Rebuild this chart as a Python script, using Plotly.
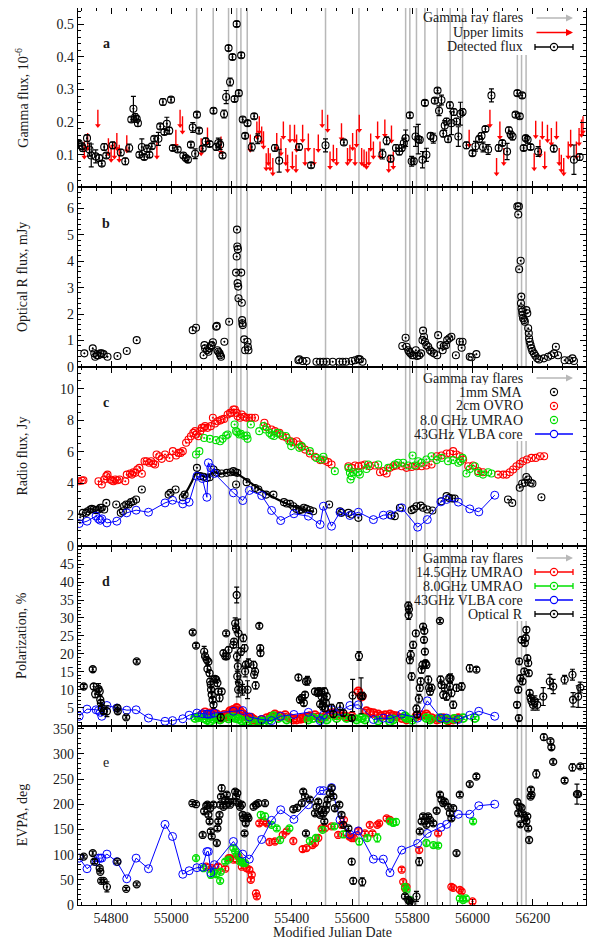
import plotly.graph_objects as go
from plotly.subplots import make_subplots

# ---------------- DATA ----------------
FLARES = [55084, 55139, 55190, 55217, 55231, 55252, 55512, 55623, 55778, 55792,
          55814, 55842, 55883, 55926, 55967, 56149, 56163, 56178]

X_TICKS = [54800, 55000, 55200, 55400, 55600, 55800, 56000, 56200]

# panel a: gamma flux (mjd, flux, err)
GAMMA_DET = [(54692,.136,.008),(54703,.126,.010),(54706,.120,.010),(54720,.151,.010),(54728,.116,.020),(54734,.098,.035),
 (54749,.095,.020),(54760,.090,.010),(54769,.073,.008),(54777,.124,.010),(54784,.098,.008),(54805,.129,.010),(54832,.107,.010),
 (54847,.080,.010),(54860,.121,.012),(54867,.208,.008),(54874,.241,.038),(54880,.216,.010),(54885,.210,.010),(54889,.197,.010),
 (54894,.100,.008),(54902,.124,.025),(54910,.093,.008),(54919,.119,.010),(54927,.100,.008),(54935,.126,.008),(54943,.149,.008),
 (54957,.149,.020),(54963,.187,.008),(54972,.262,.010),(54977,.170,.008),(54985,.195,.020),(54993,.174,.010),(54999,.269,.008),
 (55005,.121,.008),(55021,.116,.008),(55040,.098,.008),(55048,.090,.008),(55055,.085,.008),(55065,.131,.008),(55071,.184,.015),
 (55079,.103,.015),(55085,.223,.008),(55092,.174,.008),(55104,.119,.008),(55114,.141,.010),(55127,.133,.008),(55140,.235,.008),
 (55149,.124,.010),(55156,.136,.015),(55162,.131,.015),(55170,.098,.008),(55175,.225,.012),(55182,.277,.020),(55190,.427,.008),
 (55195,.323,.012),(55203,.400,.008),(55210,.271,.008),(55217,.501,.008),(55224,.289,.008),(55232,.405,.008),(55237,.208,.008),
 (55245,.158,.008),(55253,.197,.008),(55267,.124,.012),(55275,.218,.008),(55287,.149,.015),(55344,.121,.010),(55358,.082,.035),
 (55424,.124,.010),(55464,.068,.008),(55512,.129,.020),(55573,.138,.008),(55701,.102,.015),(55715,.143,.012),(55728,.088,.010),
 (55746,.121,.010),(55757,.110,.010),(55765,.121,.010),(55772,.136,.015),(55778,.151,.025),(55792,.221,.008),(55798,.080,.015),
 (55805,.080,.010),(55811,.156,.030),(55820,.148,.045),(55825,.146,.010),(55834,.085,.025),(55842,.259,.008),(55847,.100,.020),
 (55861,.158,.010),(55870,.151,.015),(55875,.266,.008),(55884,.297,.008),(55889,.235,.015),(55897,.268,.015),(55903,.165,.010),
 (55908,.190,.015),(55914,.202,.010),(55919,.148,.010),(55925,.252,.010),(55930,.197,.035),(55938,.231,.010),(55947,.202,.010),
 (55953,.156,.030),(55960,.226,.035),(55967,.231,.010),(55980,.129,.010),(56000,.105,.008),(56010,.126,.015),(56022,.148,.010),
 (56030,.158,.010),(56035,.124,.015),(56043,.179,.008),(56052,.116,.015),(56063,.282,.020),(56087,.121,.010),(56099,.136,.008),
 (56115,.110,.025),(56121,.175,.010),(56127,.162,.010),(56133,.156,.010),(56143,.223,.008),(56149,.289,.008),(56157,.218,.008),
 (56165,.282,.008),(56170,.121,.008),(56177,.151,.008),(56183,.146,.010),(56193,.124,.008),(56218,.110,.015),(56270,.119,.010),
 (56337,.085,.045),(56356,.093,.010)]

GAMMA_UL = [(54711,.141),(54722,.167),(54756,.238),(54791,.151),(54800,.131),(54811,.141),(54819,.167),(54827,.131),(54852,.160),
 (54952,.141),(55015,.177),(55029,.238),(55037,.218),(55099,.151),(55120,.184),(55165,.156),(55262,.162),(55284,.202),(55292,.218),
 (55300,.187),(55306,.172),(55315,.105),(55322,.121),(55328,.105),(55337,.090),(55350,.167),(55364,.151),(55372,.202),(55380,.121),
 (55386,.100),(55394,.192),(55402,.110),(55409,.192),(55414,.100),(55416,.162),(55436,.192),(55444,.121),(55455,.165),(55474,.121),
 (55488,.162),(55501,.238),(55519,.223),(55527,.110),(55538,.131),(55549,.121),(55565,.197),(55585,.121),(55593,.131),(55602,.167),
 (55610,.121),(55615,.177),(55624,.223),(55632,.121),(55640,.116),(55648,.110),(55656,.121),(55662,.165),(55671,.141),(55685,.202),
 (55693,.141),(55709,.208),(55722,.100),(55731,.190),(55737,.110),(55989,.177),(56058,.238),(56080,.090),(56091,.202),(56104,.121),
 (56205,.105),(56210,.204),(56224,.146),(56232,.202),(56240,.110),(56249,.192),(56262,.182),(56279,.202),(56288,.121),(56295,.100),
 (56303,.090),(56318,.141),(56326,.177),(56345,.141),(56354,.182),(56362,.208),(56367,.218)]

# panel b: optical R flux, mJy
OPT_FLUX = [(54711,.51),(54739,.70),(54744,.51),(54747,.38),(54753,.44),(54758,.44),(54764,.51),(54769,.51),(54775,.48),(54788,.38),
 (54821,.41),(54852,.60),(54885,1.01),(55071,1.39),(55082,1.48),(55107,.44),(55110,.82),(55112,.70),(55118,.63),(55123,.57),
 (55127,.70),(55131,.78),(55134,.82),(55138,.93),(55149,1.52),(55151,1.55),(55153,.63),(55156,.57),(55160,.51),(55162,.44),
 (55165,.38),(55176,.95),(55192,1.71),(55215,3.57),(55217,4.18),(55218,5.20),(55219,4.56),(55221,4.46),(55220,3.17),(55222,3.04),
 (55223,2.60),(55232,3.57),(55234,2.43),(55235,1.77),(55236,1.65),(55237,1.58),(55242,1.04),(55245,.63),(55253,.95),(55254,.76),
 (55256,.63),(55422,.25),(55425,.28),(55436,.22),(55449,.22),(55482,.19),(55494,.19),(55505,.19),(55516,.19),(55536,.19),
 (55558,.19),(55569,.19),(55580,.19),(55599,.22),(55610,.25),(55621,.29),(55626,.28),(55635,.19),(55767,.79),(55778,1.10),
 (55781,.76),(55787,.63),(55790,.57),(55794,.51),(55800,.44),(55805,.44),(55812,.63),(55816,.41),(55823,.44),(55829,.51),
 (55834,1.01),(55836,1.37),(55839,1.14),(55842,.95),(55847,.82),(55853,.76),(55859,.63),(55864,.57),(55872,.51),(55883,.44),
 (55886,1.20),(55894,.82),(55901,.63),(55905,.79),(55912,.82),(55916,1.01),(55923,1.08),(55930,1.14),(55945,.44),(55958,.95),
 (55964,.72),(55967,.95),(55991,.38),(55997,.36),(56013,.48),(56149,6.08),(56152,5.77),(56154,6.08),(56155,3.70),(56160,4.02),
 (56161,2.41),(56162,2.66),(56163,2.22),(56165,2.09),(56166,1.96),(56168,1.84),(56172,1.77),(56174,1.71),(56179,2.15),(56182,2.03),
 (56185,1.46),(56187,1.27),(56188,1.08),(56190,.95),(56193,.82),(56196,.70),(56199,.60),(56204,.51),(56209,.42),(56215,.32),
 (56221,.28),(56237,.32),(56251,.38),(56262,.44),(56271,.51),(56277,.76),(56284,.44),(56306,.25),(56321,.25),(56332,.32),(56337,.22)]

# panel c: radio flux, Jy
OVRO_2CM = [(54692,4.13),(54703,4.17),(54708,4.19),(54758,4.13),(54769,3.92),(54777,4.24),(54784,4.45),(54788,4.55),(54797,4.24),
 (54803,4.17),(54808,4.13),(54814,4.24),(54821,4.19),(54828,4.24),(54847,4.13),(54852,4.55),(54863,4.62),(54869,4.55),(54874,4.70),
 (54880,4.66),(54887,4.87),(54894,4.98),(54902,4.60),(54911,5.40),(54918,5.40),(54926,5.30),(54933,5.40),(54940,5.25),(54946,5.19),
 (54951,5.83),(54960,5.72),(54968,5.55),(54979,5.83),(54994,5.61),(55005,6.04),(55016,5.76),(55024,5.93),(55031,5.93),(55038,6.04),
 (55049,6.57),(55057,6.78),(55065,6.99),(55073,7.20),(55079,7.31),(55082,7.10),(55090,6.99),(55096,7.31),(55101,7.52),(55107,7.52),
 (55112,7.63),(55120,7.52),(55131,7.63),(55138,8.16),(55145,7.80),(55153,7.94),(55162,7.99),(55167,8.05),(55175,8.09),(55187,8.37),
 (55195,8.47),(55200,8.47),(55206,8.69),(55211,8.69),(55217,8.47),(55220,8.26),(55228,8.16),(55234,8.37),(55242,8.22),(55250,8.16),
 (55259,8.16),(55267,8.16),(55278,8.16),(55309,7.84),(55317,7.56),(55333,7.42),(55344,7.31),(55359,7.20),(55370,6.99),(55383,6.89),
 (55397,6.67),(55405,6.61),(55416,6.67),(55425,6.46),(55433,6.31),(55444,6.14),(55460,5.89),(55477,5.68),(55494,5.47),(55510,5.44),
 (55521,5.34),(55532,5.19),(55588,5.08),(55599,4.98),(55610,5.13),(55621,5.08),(55632,5.13),(55643,5.19),(55659,5.08),(55676,5.13),
 (55693,4.70),(55704,4.77),(55715,4.62),(55726,4.98),(55737,5.08),(55748,5.13),(55765,5.08),(55781,4.98),(55798,5.04),(55814,5.08),
 (55831,5.08),(55847,5.13),(55864,5.19),(55881,5.72),(55897,5.76),(55914,5.89),(55925,5.89),(55936,6.04),(55947,5.83),(55958,5.72),
 (55969,5.51),(55986,5.08),(56002,5.13),(56019,4.77),(56035,4.70),(56085,4.55),(56102,4.55),(56113,4.55),(56124,4.70),(56135,4.87),
 (56146,5.08),(56157,5.23),(56168,5.40),(56181,5.51),(56196,5.61),(56210,5.61),(56224,5.72),(56238,5.72)]

UMRAO_8_FLUX = [(55082,5.83),(55093,6.04),(55109,6.88),(55128,6.82),(55148,6.74),(55162,6.67),(55170,6.82),(55182,7.03),(55187,7.10),
 (55210,7.73),(55215,7.31),(55219,7.24),(55226,7.10),(55231,7.15),(55243,7.00),(55250,7.03),(55253,6.82),(55264,7.73),(55292,7.31),
 (55306,7.63),(55313,7.42),(55326,7.20),(55333,7.06),(55341,7.00),(55352,7.20),(55361,7.10),(55380,7.00),(55392,6.67),(55398,6.36),
 (55425,6.25),(55433,6.36),(55460,6.04),(55482,5.61),(55499,5.51),(55505,5.68),(55543,4.77),(55588,4.98),(55593,4.66),(55595,4.24),
 (55599,4.45),(55604,4.70),(55621,4.70),(55626,4.55),(55648,4.91),(55654,5.19),(55687,5.19),(55720,4.98),(55742,5.19),(55753,5.30),
 (55770,5.30),(55787,5.13),(55801,5.76),(55809,5.13),(55820,5.40),(55831,5.30),(55847,5.51),(55864,5.72),(55881,5.47),(55897,5.61),
 (55919,5.40),(55936,5.47),(55953,5.30),(55960,5.40),(55967,5.61),(55980,4.62),(55991,4.91),(56008,5.08),(56019,4.66),(56035,4.55),
 (56052,4.70),(56063,4.62)]

SMA_1MM = [(54697,1.84),(54706,2.12),(54717,2.12),(54722,2.22),(54731,2.33),(54736,2.37),(54742,2.33),(54750,2.29),(54758,2.33),
 (54764,2.44),(54769,2.44),(54777,2.33),(54784,2.75),(54817,2.65),(54832,2.12),(54839,2.22),(54843,2.54),(54850,2.65),(54858,2.65),
 (54866,2.80),(54874,2.86),(54883,2.97),(54902,3.60),(54991,3.28),(54997,3.39),(55014,3.60),(55038,3.11),(55044,3.28),(55085,4.98),
 (55096,4.45),(55107,4.41),(55118,4.34),(55127,4.38),(55140,4.87),(55151,4.66),(55167,4.62),(55184,4.66),(55197,4.70),(55206,4.77),
 (55212,4.70),(55215,3.92),(55219,4.66),(55250,4.07),(55278,3.70),(55289,3.60),(55315,3.28),(55339,3.28),(55374,2.80),(55383,2.71),
 (55394,2.69),(55405,2.54),(55416,2.37),(55425,2.29),(55433,2.33),(55440,2.44),(55449,2.37),(55460,2.29),(55471,2.22),(55524,2.65),
 (55560,2.22),(55565,2.12),(55588,2.12),(55599,2.01),(55621,1.80),(55731,1.95),(55742,1.91),(55759,2.44),(55798,2.29),(55805,2.37),
 (55814,2.54),(55828,2.58),(55836,2.44),(55850,2.33),(55867,2.27),(55897,2.86),(55914,3.18),(55923,3.07),(55933,3.03),(55941,3.03),
 (56118,2.97),(56132,2.75),(56157,3.71),(56165,3.98),(56174,4.03),(56179,4.40),(56185,4.24),(56193,4.03),(56199,3.98),(56229,3.11)]

SMA_TREND_MJD = [55035, 55051, 55068, 55085, 55101, 55118, 55140, 55162, 55195, 55217, 55250, 55284, 55317, 55350, 55383, 55427, 55471]
SMA_TREND = [3.10, 3.50, 4.10, 4.70, 4.50, 4.40, 4.70, 4.60, 4.70, 4.60, 4.20, 3.75, 3.35, 3.00, 2.70, 2.40, 2.20]

# VLBA 43 GHz core (panels c, d, e share epochs)
VLBA_MJD = [54694, 54720, 54750, 54758, 54764, 54769, 54786, 54819, 54852, 54883, 54924, 54979, 55004, 55038, 55059, 55085,
            55103, 55118, 55123, 55131, 55143, 55206, 55237, 55259, 55300, 55333, 55363, 55407, 55455, 55494, 55505, 55532,
            55560, 55593, 55621, 55671, 55704, 55726, 55765, 55818, 55850, 55895, 55914, 55953, 55991, 56021, 56074]
VLBA_FLUX = [1.44, 1.59, 1.91, 1.74, 1.65, 1.74, 1.48, 1.59, 2.12, 2.29, 2.16, 2.75, 2.92, 2.69, 2.80, 4.45,
             4.30, 3.11, 5.30, 4.98, 4.62, 3.39, 2.90, 3.54, 3.22, 2.27, 1.63, 2.06, 1.91, 1.38, 2.54, 1.27,
             2.16, 1.95, 2.16, 1.69, 1.97, 2.01, 2.44, 1.21, 1.69, 2.82, 2.97, 2.80, 2.37, 2.18, 3.24]
VLBA_POL = [2.6, 4.6, 4.4, 4.2, 3.7, 2.6, 5.6, 4.9, 4.3, 4.4, 2.1, 1.2, 1.4, 1.9, 2.9, 3.5,
            3.3, 3.2, 3.2, 3.2, 3.5, 4.0, 4.2, 2.4, 1.7, 1.4, 2.6, 3.1, 3.7, 1.4, 2.9, 4.4,
            4.0, 5.6, 5.8, 1.7, 2.1, 1.9, 3.2, 2.1, 6.9, 2.1, 2.1, 1.7, 2.9, 4.0, 2.6]
VLBA_EVPA = [93, 72, 86, 93, 93, 93, 101, 86, 52, 93, 72, 160, 136, 61, 68, 74,
             75, 106, 106, 64, 80, 126, 101, 91, 130, 168, 189, 170, 199, 227, 227, 233,
             169, 140, 147, 91, 91, 64, 109, 122, 142, 154, 160, 180, 180, 197, 200]

# panel d: polarization degree, %
POL_14 = [(55100,2.9),(55112,3.7),(55123,3.1),(55130,3.4),(55140,3.5),(55151,3.1),(55167,2.1),(55175,3.0),(55184,2.6),(55195,4.0),
 (55200,3.6),(55206,4.4),(55212,4.2),(55217,4.9),(55228,4.0),(55239,3.1),(55245,2.6),(55256,2.1),(55265,2.2),(55273,1.7),(55289,1.2),
 (55300,1.6),(55317,2.1),(55330,2.5),(55344,3.1),(55359,2.6),(55378,2.9),(55394,2.1),(55405,1.7),(55416,1.7),(55430,1.9),(55438,2.1),
 (55450,2.4),(55460,2.6),(55477,2.9),(55488,2.3),(55499,2.1),(55516,2.9),(55527,3.3),(55538,3.5),(55550,2.8),(55565,3.1),(55580,2.4),
 (55599,2.6),(55621,9.5),(55632,8.1),(55648,4.0),(55660,3.6),(55671,3.5),(55687,3.1),(55698,2.6),(55710,2.9),(55726,3.1),(55736,2.8),
 (55748,2.6),(55765,2.1),(55781,1.7),(55814,2.6),(55830,2.9),(55847,3.1),(55864,2.1),(55881,1.7),(55890,1.9),(55903,2.1),(55919,1.4),
 (55936,1.7),(55953,2.1)]

POL_8 = [(55079,2.1),(55090,2.3),(55107,2.1),(55118,1.6),(55128,1.2),(55140,1.8),(55151,2.1),(55162,1.7),(55190,2.0),(55201,2.3),
 (55212,2.1),(55223,1.9),(55234,1.4),(55250,1.2),(55273,1.2),(55295,1.2),(55306,1.0),(55325,1.6),(55339,2.6),(55355,2.1),(55383,1.7),
 (55455,1.7),(55471,2.1),(55495,1.9),(55516,1.7),(55549,2.1),(55582,2.1),(55615,1.7),(55632,2.1),(55643,1.7),(55687,1.4),(55726,1.2),
 (55737,1.7),(55776,2.6),(55781,2.1),(55800,1.6),(55847,2.1),(55859,1.7),(55892,2.1),(55914,1.7),(55940,1.9),(55969,2.1),(56008,2.1)]

POL_OPT = [(54709,10.9,.5),(54739,15.7,.6),(54742,10.9,.8),(54747,8.8,1.0),(54758,10.2,1.5),(54762,9.5,1.2),(54764,7.2,1.0),
 (54766,6.3,.8),(54769,4.9,.8),(54775,4.0,.6),(54786,4.0,1.5),(54821,4.9,.6),(54822,4.0,.5),(54850,2.3,.5),(54885,17.9,.5),
 (55071,26.0,.5),(55082,22.3,.6),(55109,20.6,1.5),(55112,19.3,1.0),(55118,18.3,.8),(55120,15.8,.8),(55123,17.8,.8),(55127,14.6,.8),
 (55129,12.3,.8),(55131,11.4,.8),(55132,10.0,.8),(55134,8.6,.8),(55137,7.2,.8),(55140,5.8,.8),(55145,13.0,.8),(55149,12.8,.8),
 (55153,11.9,1.0),(55156,9.5,.8),(55160,7.7,1.0),(55164,2.3,1.0),(55167,9.5,.8),(55173,20.2,.8),(55179,19.3,.8),(55182,25.7,.6),
 (55184,19.3,.8),(55190,21.1,.8),(55206,22.5,.8),(55208,23.4,.8),(55212,28.5,1.5),(55215,27.1,1.2),(55217,36.4,2.2),(55218,19.3,1.2),
 (55219,13.7,1.5),(55221,16.5,1.5),(55222,10.0,2.0),(55223,25.7,4.0),(55225,11.9,2.0),(55231,20.6,1.0),(55236,10.0,1.5),
 (55239,24.4,1.0),(55243,21.6,1.0),(55245,15.1,1.5),(55247,16.9,1.0),(55253,10.0,2.5),(55256,17.4,1.2),(55273,16.9,1.0),
 (55275,14.2,1.0),(55278,15.1,1.0),(55280,11.2,1.0),(55292,27.8,.6),(55295,21.6,.8),(55296,20.2,.8),(55422,13.4,.8),(55427,7.2,.8),
 (55433,7.7,.8),(55440,6.3,.8),(55444,8.6,.8),(55447,12.3,.8),(55452,12.5,1.2),(55477,9.5,.8),(55486,9.1,.8),(55491,9.5,1.0),
 (55494,6.0,.8),(55499,8.1,2.0),(55502,5.4,1.0),(55505,6.8,1.5),(55508,9.5,1.0),(55510,4.9,1.0),(55513,6.3,1.0),(55516,8.1,1.0),
 (55532,4.9,1.0),(55538,3.2,.8),(55560,5.4,1.0),(55571,3.5,.8),(55599,2.1,.8),(55602,8.4,4.5),(55623,19.4,1.2),(55630,8.3,5.0),
 (55635,8.3,1.0),(55787,33.4,1.0),(55789,32.4,1.2),(55788,30.8,1.2),(55792,18.3,1.0),(55795,19.7,1.2),(55798,13.7,1.0),
 (55803,22.5,1.0),(55812,25.7,.8),(55814,4.7,1.0),(55816,3.1,.8),(55822,7.5,1.2),(55825,10.5,1.0),(55828,12.3,1.0),(55831,15.6,1.0),
 (55834,16.9,1.0),(55836,27.6,.8),(55839,23.9,.8),(55840,26.4,.8),(55842,20.6,.8),(55844,17.4,.8),(55847,16.9,.8),(55853,12.8,1.0),
 (55856,10.5,1.0),(55859,9.5,1.0),(55864,10.5,1.0),(55892,29.2,.5),(55894,12.8,1.0),(55897,11.4,1.0),(55903,8.6,1.0),
 (55908,10.5,1.0),(55914,8.1,1.0),(55923,13.2,1.0),(55925,10.9,1.0),(55927,13.2,1.2),(55930,9.1,1.0),(55936,5.8,1.0),
 (55947,10.5,1.0),(55964,10.9,1.0),(55991,16.0,1.0),(56013,15.6,.6),(56148,5.8,.8),(56152,10.0,.8),(56154,2.1,.8),(56155,17.9,.8),
 (56159,13.2,.8),(56163,23.9,.8),(56166,12.3,.8),(56172,15.1,.8),(56174,23.0,.8),(56177,24.4,.8),(56179,26.7,.8),(56182,18.8,.8),
 (56185,17.4,.8),(56187,14.6,.8),(56190,9.1,.8),(56193,7.7,1.0),(56196,6.8,1.0),(56201,5.8,1.5),(56207,6.8,1.5),(56215,5.8,1.5),
 (56235,8.1,2.5),(56257,12.3,2.0),(56268,10.9,2.0),(56306,12.8,1.2),(56332,14.2,1.5),(56334,7.2,2.0),(56351,8.1,3.0),(56358,10.6,1.5)]

# panel e: EVPA, deg (mjd, evpa, err)
EVPA_OPT = [(54709,96,3),(54739,103,4),(54744,86,4),(54762,73,4),(54764,66,3),(54767,48,3),(54775,48,3),(54786,36,10),(54821,86,3),
 (54850,32,3),(54885,41,3),(55070,202,3),(55082,200,3),(55104,139,4),(55109,186,4),(55116,197,4),(55120,199,4),(55123,179,4),
 (55127,166,4),(55129,192,4),(55131,146,4),(55134,136,4),(55140,199,4),(55151,123,4),(55153,152,4),(55156,166,4),(55160,179,4),
 (55162,199,4),(55165,215,4),(55167,232,6),(55173,195,4),(55179,209,4),(55182,199,4),(55184,219,4),(55190,205,4),(55195,199,4),
 (55206,205,4),(55212,225,4),(55215,215,4),(55219,222,4),(55223,202,4),(55228,195,4),(55234,199,4),(55237,179,4),(55239,172,4),
 (55243,142,4),(55247,162,4),(55253,176,4),(55256,172,4),(55273,195,4),(55281,199,4),(55289,202,4),(55311,202,4),(55405,190,4),
 (55418,193,4),(55433,202,4),(55438,225,4),(55444,215,4),(55447,142,4),(55460,209,4),(55477,182,4),(55482,195,4),(55488,205,4),
 (55494,179,4),(55499,189,4),(55505,182,4),(55508,166,4),(55513,189,4),(55516,199,4),(55519,209,4),(55527,222,4),(55532,232,4),
 (55538,215,4),(55543,192,4),(55558,199,4),(55565,179,4),(55571,159,4),(55588,152,4),(55599,86,6),(55604,48,6),(55634,46,8),
 (55776,17,4),(55787,10,4),(55792,7,4),(55798,3,4),(55814,17,10),(55823,86,8),(55825,146,4),(55831,166,4),(55836,176,4),
 (55842,166,4),(55847,159,4),(55853,176,4),(55859,169,4),(55870,162,4),(55881,187,4),(55892,219,4),(55897,209,4),(55903,202,4),
 (55908,205,4),(55919,195,4),(55925,182,4),(55930,172,4),(55936,192,4),(55947,103,4),(55958,219,4),(55991,240,4),(56013,255,4),
 (56149,204,4),(56152,182,4),(56157,195,4),(56159,160,4),(56163,193,4),(56168,180,4),(56174,172,4),(56179,166,4),(56182,176,4),
 (56185,152,4),(56188,129,4),(56193,215,4),(56194,229,4),(56196,219,4),(56212,260,8),(56237,333,6),(56259,325,4),(56262,313,4),
 (56268,284,4),(56306,247,4),(56332,273,7),(56347,220,20),(56351,220,4),(56358,275,4)]

EVPA_14 = [(55116,76,4),(55134,73,4),(55156,76,4),(55179,72,4),(55190,93,4),(55195,93,4),(55206,90,4),(55217,90,4),(55223,96,4),
 (55234,76,4),(55250,73,4),(55259,70,4),(55264,50,4),(55267,60,4),(55281,23,6),(55284,17,5),(55292,162,4),(55306,166,4),(55317,162,4),
 (55326,125,4),(55344,126,4),(55370,139,4),(55383,146,4),(55405,127,4),(55436,111,5),(55449,113,4),(55469,119,4),(55477,123,4),
 (55488,133,4),(55499,152,4),(55510,152,4),(55532,156,4),(55554,139,4),(55565,159,6),(55573,169,4),(55582,142,4),(55591,136,4),
 (55599,133,4),(55606,133,4),(55621,147,4),(55643,142,4),(55659,159,4),(55668,142,4),(55684,159,4),(55690,162,4),(55715,172,4),
 (55726,169,4),(55765,70,4),(55770,46,4),(55776,33,5),(55781,36,4),(55823,109,4),(55886,142,4),(55930,36,5),(55936,34,4),
 (55958,30,4),(55964,27,4),(56000,7,4)]

EVPA_8 = [(55082,93,4),(55107,73,4),(55131,60,6),(55140,66,4),(55149,61,4),(55162,48,4),(55164,66,4),(55179,86,4),(55190,90,4),
 (55206,113,4),(55212,106,4),(55219,99,4),(55228,86,4),(55234,86,4),(55239,83,4),(55245,83,4),(55297,179,6),(55311,176,6),
 (55333,159,4),(55350,152,4),(55361,129,4),(55392,152,4),(55460,127,4),(55480,133,4),(55502,149,4),(55541,156,4),(55571,140,6),
 (55624,126,6),(55651,133,4),(55684,133,8),(55726,166,4),(55737,163,6),(55746,165,6),(55776,36,4),(55781,30,4),(55792,10,4),
 (55847,123,4),(55870,119,4),(55886,118,4),(55958,13,4),(55969,10,4),(55978,13,4),(56002,166,4)]

# ---------------- STYLE ----------------
# The page body has an 8 px margin, so the figure is sized to fill the 595x947 window exactly.
OFF = 8
W, H = 595 - 2 * OFF, 947 - 2 * OFF
ML, MR, MT, MB = 70, 1, 0, 34
PW, PH = W - ML - MR, H - MT - MB
FONT = dict(family="Liberation Serif, Times New Roman, serif", size=14, color="#1a1a1a")
RED, GREEN, BLUE, BLACK, GRAY = "#ff0000", "#00e000", "#0000ff", "#000000", "#b8b8b8"
UL_LEN = 0.048


def px(xwin):
    return (xwin - OFF - ML) / PW


def py(ywin):
    return (H - MB - (ywin - OFF)) / PH


def col(rows, i):
    return [r[i] for r in rows]


fig = make_subplots(rows=5, cols=1, vertical_spacing=0)

sym = "circle-open-dot"


def pts(rows, color, row, err=None, size=7, width=1.1, ew=1.2):
    kw = {}
    if err is not None:
        kw["error_y"] = dict(type="data", array=err, visible=True, color=color, thickness=ew, width=2.5)
    fig.add_trace(go.Scatter(x=col(rows, 0), y=col(rows, 1), mode="markers",
                             marker=dict(symbol=sym, size=size, color=color, line=dict(color=color, width=width)),
                             showlegend=False, hoverinfo="skip", **kw), row=row, col=1)


# ---- panel a ----
sx, sy = [], []
for m, v in GAMMA_UL:
    sx += [m, m, None]
    sy += [v, v - UL_LEN, None]
fig.add_trace(go.Scatter(x=sx, y=sy, mode="lines", line=dict(color=RED, width=1.4), showlegend=False, hoverinfo="skip"), row=1, col=1)
fig.add_trace(go.Scatter(x=col(GAMMA_UL, 0), y=[v - UL_LEN for v in col(GAMMA_UL, 1)], mode="markers",
                         marker=dict(symbol="triangle-down", size=5, color=RED, line=dict(width=0)),
                         showlegend=False, hoverinfo="skip"), row=1, col=1)
pts(GAMMA_DET, BLACK, 1, err=col(GAMMA_DET, 2))

# ---- panel b ----
pts(OPT_FLUX, BLACK, 2)

# ---- panel c ----
pts(OVRO_2CM, RED, 3)
pts(UMRAO_8_FLUX, GREEN, 3)
fig.add_trace(go.Scatter(x=SMA_TREND_MJD, y=SMA_TREND, mode="lines", line=dict(color=BLACK, width=2.2, shape="spline"),
                         showlegend=False, hoverinfo="skip"), row=3, col=1)
pts(SMA_1MM, BLACK, 3)
fig.add_trace(go.Scatter(x=VLBA_MJD, y=VLBA_FLUX, mode="lines+markers", line=dict(color=BLUE, width=1),
                         marker=dict(symbol="circle-open", size=8, color=BLUE, line=dict(color=BLUE, width=1)),
                         showlegend=False, hoverinfo="skip"), row=3, col=1)

# ---- panel d ----
pts(POL_14, RED, 4, err=[0.5] * len(POL_14), size=8, width=1.8)
pts(POL_8, GREEN, 4, err=[0.4] * len(POL_8), size=8, width=1.8)
fig.add_trace(go.Scatter(x=VLBA_MJD, y=VLBA_POL, mode="lines+markers", line=dict(color=BLUE, width=1),
                         marker=dict(symbol="circle-open", size=8, color=BLUE, line=dict(color=BLUE, width=1)),
                         showlegend=False, hoverinfo="skip"), row=4, col=1)
pts(POL_OPT, BLACK, 4, err=col(POL_OPT, 2), size=7, width=1.3)

# ---- panel e ----
pts(EVPA_14, RED, 5, err=col(EVPA_14, 2), size=7, width=1.3)
pts(EVPA_8, GREEN, 5, err=col(EVPA_8, 2), size=7, width=1.3)
fig.add_trace(go.Scatter(x=VLBA_MJD, y=VLBA_EVPA, mode="lines+markers", line=dict(color=BLUE, width=1),
                         marker=dict(symbol="circle-open", size=8, color=BLUE, line=dict(color=BLUE, width=1)),
                         showlegend=False, hoverinfo="skip"), row=5, col=1)
pts(EVPA_OPT, BLACK, 5, err=col(EVPA_OPT, 2), size=7, width=1.3)

# ---------------- AXES ----------------
axc = dict(showline=True, linecolor="black", linewidth=1.3, mirror="ticks", ticks="inside", ticklen=6,
           tickwidth=1, tickcolor="black", showgrid=False, zeroline=False, tickfont=FONT, automargin=False)
for r in range(1, 6):
    fig.update_xaxes(range=[54690, 56377], tickmode="array", tickvals=X_TICKS, ticktext=[str(v) for v in X_TICKS],
                     showticklabels=(r == 5),
                     minor=dict(tick0=54800, dtick=50, ticklen=3, ticks="inside", tickcolor="black"),
                     row=r, col=1, **axc)

yspec = {
    1: dict(range=[0, 0.55], tickvals=[0, 0.1, 0.2, 0.3, 0.4, 0.5], ticktext=["0", "0.1", "0.2", "0.3", "0.4", "0.5"], minor=0.02),
    2: dict(range=[0, 6.8], tickvals=[0, 1, 2, 3, 4, 5, 6], ticktext=None, minor=0.2),
    3: dict(range=[0, 11.4], tickvals=[0, 2, 4, 6, 8, 10], ticktext=None, minor=0.5),
    4: dict(range=[0, 50], tickvals=[5, 10, 15, 20, 25, 30, 35, 40, 45], ticktext=None, minor=1),
    5: dict(range=[0, 356], tickvals=[0, 50, 100, 150, 200, 250, 300, 350], ticktext=None, minor=10),
}
for r, s in yspec.items():
    kw = dict(range=s["range"], tickmode="array", tickvals=s["tickvals"],
              minor=dict(tick0=0, dtick=s["minor"], ticklen=3, ticks="inside", tickcolor="black"))
    if s["ticktext"]:
        kw["ticktext"] = s["ticktext"]
    fig.update_yaxes(row=r, col=1, **kw, **axc)

# ---------------- SHAPES / ANNOTATIONS ----------------
shapes = []
for f in FLARES:
    shapes.append(dict(type="line", xref="x", yref="paper", x0=f, x1=f, y0=0, y1=1,
                       line=dict(color=GRAY, width=1.5), layer="below"))
# opaque key areas
for (ytop, ybot) in [(8, 55), (366, 441), (546, 621)]:
    shapes.append(dict(type="rect", xref="paper", yref="paper", x0=px(513), x1=1, y0=py(ybot), y1=min(1, py(ytop)),
                       line=dict(width=0), fillcolor="white", layer="below"))

annotations = []
LX_TEXT, LX0, LX1 = px(525), px(535), px(573)
LXC = (LX0 + LX1) / 2


def key_row(ypix, label, kind, color):
    yp = py(ypix)
    annotations.append(dict(x=LX_TEXT, y=yp, xref="paper", yref="paper", text=label, showarrow=False,
                            xanchor="right", yanchor="middle", height=13, font=FONT))
    if kind == "arrow":
        annotations.append(dict(x=LX1, y=yp, xref="paper", yref="paper", ax=-38, ay=0, text="",
                                showarrow=True, arrowhead=2, arrowsize=1, arrowwidth=1.4, arrowcolor=color))
        return
    if kind in ("err", "line"):
        shapes.append(dict(type="line", xref="paper", yref="paper", x0=LX0, x1=LX1, y0=yp, y1=yp,
                           line=dict(color=color, width=1.3), layer="above"))
    if kind == "err":
        for xx in (LX0, LX1):
            shapes.append(dict(type="line", xref="paper", yref="paper", x0=xx, x1=xx, ysizemode="pixel",
                               yanchor=yp, y0=-3, y1=3, line=dict(color=color, width=1.3), layer="above"))
    shapes.append(dict(type="circle", xref="paper", yref="paper", xsizemode="pixel", ysizemode="pixel",
                       xanchor=LXC, yanchor=yp, x0=-3.6, x1=3.6, y0=-3.6, y1=3.6,
                       line=dict(color=color, width=1.1), fillcolor="white", layer="above"))
    if kind != "line":
        shapes.append(dict(type="circle", xref="paper", yref="paper", xsizemode="pixel", ysizemode="pixel",
                           xanchor=LXC, yanchor=yp, x0=-0.8, x1=0.8, y0=-0.8, y1=0.8,
                           line=dict(color=color, width=0.8), fillcolor=color, layer="above"))


key_row(18, "Gamma ray flares", "arrow", GRAY)
key_row(32.5, "Upper limits", "arrow", RED)
key_row(47, "Detected flux", "err", BLACK)

key_row(378, "Gamma ray flares", "arrow", GRAY)
key_row(392, "1mm SMA", "pt", BLACK)
key_row(406, "2cm OVRO", "pt", RED)
key_row(420, "8.0 GHz UMRAO", "pt", GREEN)
key_row(434, "43GHz VLBA core", "line", BLUE)

key_row(558, "Gamma ray flares", "arrow", GRAY)
key_row(572, "14.5GHz UMRAO", "err", RED)
key_row(586, "8.0GHz UMRAO", "err", GREEN)
key_row(600, "43GHz VLBA core", "line", BLUE)
key_row(614, "Optical R", "err", BLACK)

# panel letters
for letter, ypix, bold in [("a", 43, True), ("b", 223, True), ("c", 403, True), ("d", 581, True), ("e", 762, False)]:
    annotations.append(dict(x=px(106), y=py(ypix), xref="paper", yref="paper",
                            text=f"<b>{letter}</b>" if bold else letter, showarrow=False,
                            xanchor="center", yanchor="middle", font=FONT))

# axis titles
for title, yc in [("Gamma flux, 10<sup>-6</sup>", 0.9), ("Optical R flux, mJy", 0.7), ("Radio flux, Jy", 0.5),
                  ("Polarization, %", 0.3), ("EVPA, deg", 0.1)]:
    annotations.append(dict(x=px(22), y=yc, xref="paper", yref="paper", text=title, textangle=-90,
                            showarrow=False, xanchor="center", yanchor="middle", font=FONT))
annotations.append(dict(x=0.5, y=-MB / PH, xref="paper", yref="paper", text="Modified Julian Date",
                        showarrow=False, xanchor="center", yanchor="bottom", yshift=-3, font=FONT))

fig.update_layout(width=W, height=H, margin=dict(l=ML, r=MR, t=MT, b=MB), paper_bgcolor="white",
                  plot_bgcolor="white", showlegend=False, font=FONT, shapes=shapes, annotations=annotations)

fig.write_html("out.html")
